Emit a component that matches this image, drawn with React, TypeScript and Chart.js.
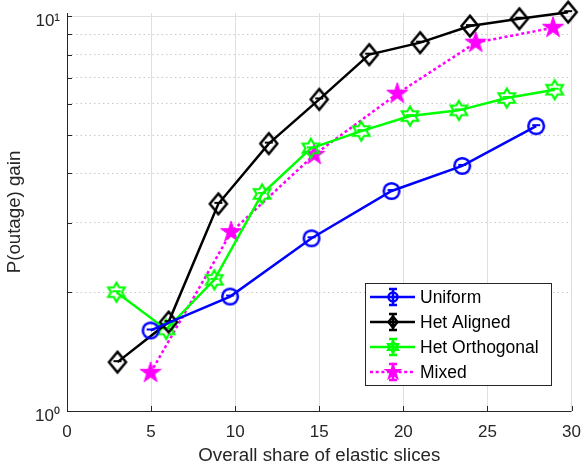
import React, { useEffect, useRef } from "react";
import { Chart, registerables } from "chart.js";

Chart.register(...registerables);

// ---- data ----
const uniformX = [4.97, 9.7, 14.54, 19.3, 23.5, 27.9];
const uniformY = [1.6, 1.95, 2.74, 3.61, 4.18, 5.27];

const alignedX = [3.0, 6.04, 9.0, 12.0, 15.0, 17.97, 21.0, 23.96, 26.9, 29.8];
const alignedY = [1.33, 1.68, 3.35, 4.76, 6.16, 8.0, 8.58, 9.45, 9.86, 10.25];

const orthoX = [2.94, 5.9, 8.76, 11.6, 14.5, 17.5, 20.4, 23.3, 26.15, 29.0];
const orthoY = [2.0, 1.61, 2.15, 3.55, 4.63, 5.12, 5.59, 5.78, 6.21, 6.52];

const mixedX = [4.97, 9.76, 14.7, 19.64, 24.3, 28.9];
const mixedY = [1.25, 2.84, 4.46, 6.37, 8.58, 9.36];

const seriesNames = ["Uniform", "Het Aligned", "Het Orthogonal", "Mixed"];
const seriesColors = ["#0000ff", "#000000", "#00ff00", "#ff00ff"];

const xTicks = [0, 5, 10, 15, 20, 25, 30];
const yTicks = [1, 2, 3, 4, 5, 6, 7, 8, 9, 10];
const yMajorLabels: Record<number, string> = { 1: "10\u2070", 10: "10\u00b9" };

const AXIS_COLOR = "#262626";
const FONT = "'Liberation Sans', Arial, Helvetica, sans-serif";

type Shape = "circle" | "diamond" | "hexagram" | "pentagram";

function starPath(ctx: CanvasRenderingContext2D, cx: number, cy: number, n: number, R: number, r: number) {
  ctx.beginPath();
  for (let i = 0; i < 2 * n; i++) {
    const rad = i % 2 === 0 ? R : r;
    const a = -Math.PI / 2 + (i * Math.PI) / n;
    const px = cx + rad * Math.cos(a);
    const py = cy + rad * Math.sin(a);
    if (i === 0) ctx.moveTo(px, py);
    else ctx.lineTo(px, py);
  }
  ctx.closePath();
}

function drawShape(ctx: CanvasRenderingContext2D, shape: Shape, cx: number, cy: number, s: number, color: string, lw: number, dash: boolean) {
  ctx.save();
  ctx.strokeStyle = color;
  ctx.fillStyle = color;
  ctx.lineWidth = lw;
  ctx.lineJoin = "miter";
  if (shape === "circle") {
    ctx.beginPath();
    ctx.arc(cx, cy, s, 0, Math.PI * 2);
    ctx.stroke();
  } else if (shape === "diamond") {
    ctx.beginPath();
    ctx.moveTo(cx, cy - s * 1.22);
    ctx.lineTo(cx + s, cy);
    ctx.lineTo(cx, cy + s * 1.22);
    ctx.lineTo(cx - s, cy);
    ctx.closePath();
    ctx.stroke();
  } else if (shape === "hexagram") {
    starPath(ctx, cx, cy, 6, s, s / Math.sqrt(3));
    ctx.stroke();
  } else {
    starPath(ctx, cx, cy, 5, s, s * 0.382);
    ctx.fill();
    ctx.stroke();
  }
  if (dash) {
    ctx.lineWidth = 2;
    ctx.beginPath();
    ctx.moveTo(cx - 4, cy - 1);
    ctx.lineTo(cx + 4, cy - 1);
    ctx.stroke();
  }
  ctx.restore();
}

function makeMarker(shape: Shape, s: number, color: string, lw: number, dash: boolean) {
  const size = 32;
  const c = document.createElement("canvas");
  c.width = size;
  c.height = size;
  const ctx = c.getContext("2d")!;
  drawShape(ctx, shape, size / 2, size / 2, s, color, lw, dash);
  return c;
}

const shapes: Shape[] = ["circle", "diamond", "hexagram", "pentagram"];

export default function App() {
  const ref = useRef<HTMLCanvasElement | null>(null);

  useEffect(() => {
    document.body.style.margin = "0";
    const canvas = ref.current!;

    const markers = [
      makeMarker("circle", 7.8, seriesColors[0], 2.5, true),
      makeMarker("diamond", 8.5, seriesColors[1], 2.5, true),
      makeMarker("hexagram", 9.5, seriesColors[2], 2.2, true),
      makeMarker("pentagram", 11, seriesColors[3], 1, false),
    ];

    const mk = (xs: number[], ys: number[]) => xs.map((x, i) => ({ x, y: ys[i] }));

    const axisPlugin = {
      id: "matlabAxes",
      afterDatasetsDraw(chart: any) {
        const { ctx, scales } = chart;
        const xs = scales.x;
        const ys = scales.y;
        const left = xs.left;
        const bottom = ys.bottom;
        ctx.save();
        ctx.strokeStyle = AXIS_COLOR;
        ctx.lineWidth = 1;
        ctx.beginPath();
        ctx.moveTo(left + 0.5, ys.top);
        ctx.lineTo(left + 0.5, bottom + 0.5);
        ctx.lineTo(xs.right, bottom + 0.5);
        ctx.stroke();
        // inward ticks
        ctx.beginPath();
        for (const v of yTicks) {
          const py = Math.round(ys.getPixelForValue(v)) + 0.5;
          ctx.moveTo(left, py);
          ctx.lineTo(left + 5, py);
        }
        for (const v of xTicks) {
          const px = Math.round(xs.getPixelForValue(v)) + 0.5;
          ctx.moveTo(px, bottom);
          ctx.lineTo(px, bottom - 5);
        }
        ctx.stroke();
        ctx.restore();

        // legend
        const bx = 365.5, by = 283.5, bw = 186, bh = 102;
        ctx.save();
        ctx.fillStyle = "#ffffff";
        ctx.fillRect(bx, by, bw, bh);
        ctx.strokeStyle = AXIS_COLOR;
        ctx.lineWidth = 1;
        ctx.strokeRect(bx, by, bw, bh);
        const rows = [297, 322, 347, 372];
        seriesNames.forEach((name, i) => {
          const cy = rows[i];
          const col = seriesColors[i];
          ctx.strokeStyle = col;
          ctx.lineWidth = 2.5;
          ctx.setLineDash(i === 3 ? [3, 2.7] : []);
          ctx.beginPath();
          ctx.moveTo(370, cy);
          ctx.lineTo(415, cy);
          ctx.stroke();
          ctx.setLineDash([]);
          // error bar glyph
          ctx.lineWidth = 2.5;
          ctx.beginPath();
          ctx.moveTo(393, cy - 8);
          ctx.lineTo(393, cy + 8);
          ctx.moveTo(389, cy - 8);
          ctx.lineTo(397, cy - 8);
          ctx.moveTo(389, cy + 8);
          ctx.lineTo(397, cy + 8);
          ctx.stroke();
          drawShape(ctx, shapes[i], 393, cy, i === 3 ? 6 : i === 2 ? 5.5 : 4.5, col, 2.5, false);
          ctx.fillStyle = "#000000";
          ctx.font = `17.5px ${FONT}`;
          ctx.textBaseline = "middle";
          ctx.textAlign = "left";
          ctx.fillText(name, 420, cy + 1);
        });
        ctx.restore();
      },
    };

    const common = {
      showLine: true,
      borderWidth: 2.5,
      pointRadius: 10,
      clip: false as any,
    };

    const chart = new Chart(canvas, {
      type: "scatter",
      data: {
        datasets: [
          { ...common, label: seriesNames[0], data: mk(uniformX, uniformY), borderColor: seriesColors[0], backgroundColor: seriesColors[0], pointStyle: markers[0] as any },
          { ...common, label: seriesNames[1], data: mk(alignedX, alignedY), borderColor: seriesColors[1], backgroundColor: seriesColors[1], pointStyle: markers[1] as any },
          { ...common, label: seriesNames[2], data: mk(orthoX, orthoY), borderColor: seriesColors[2], backgroundColor: seriesColors[2], pointStyle: markers[2] as any },
          { ...common, label: seriesNames[3], data: mk(mixedX, mixedY), borderColor: seriesColors[3], backgroundColor: seriesColors[3], pointStyle: markers[3] as any, borderDash: [3, 2.7] },
        ],
      },
      options: {
        animation: false,
        responsive: false,
        devicePixelRatio: 1,
        layout: { padding: { top: 13, right: 9, left: 0, bottom: 0 } },
        plugins: { legend: { display: false }, tooltip: { enabled: false } },
        scales: {
          x: {
            type: "linear",
            min: 0,
            max: 30,
            afterBuildTicks: (s: any) => {
              s.ticks = xTicks.map((v) => ({ value: v }));
            },
            afterFit: (s: any) => {
              s.height = 59;
              s.paddingLeft = 0;
              s.paddingRight = 0;
            },
            ticks: {
              color: AXIS_COLOR,
              font: { family: FONT, size: 17 },
              padding: 11,
              maxRotation: 0,
              callback: (v: any) => String(v),
            },
            grid: { color: "#dfdfdf", lineWidth: 1, drawTicks: false },
            border: { display: false },
            title: {
              display: true,
              text: "Overall share of elastic slices",
              color: AXIS_COLOR,
              font: { family: FONT, size: 18.7 },
              padding: { top: 0, bottom: 3 },
            },
          },
          y: {
            type: "logarithmic",
            min: 1,
            max: 10.2,
            afterBuildTicks: (s: any) => {
              s.ticks = yTicks.map((v) => ({ value: v, major: v === 1 || v === 10 }));
            },
            afterFit: (s: any) => {
              s.width = 67;
              s.paddingTop = 0;
              s.paddingBottom = 0;
            },
            ticks: {
              color: AXIS_COLOR,
              font: { family: FONT, size: 17 },
              padding: 7,
              labelOffset: 5,
              autoSkip: false,
              callback: (v: any) => yMajorLabels[Math.round(Number(v))] ?? "",
            },
            grid: {
              drawTicks: false,
              lineWidth: 1,
              color: (c: any) => (c.tick && (c.tick.value === 1 || c.tick.value === 10) ? "#dfdfdf" : "#cacaca"),
            },
            border: {
              display: false,
              dash: (c: any) => (c.tick && (c.tick.value === 1 || c.tick.value === 10) ? [] : [1.5, 3]),
            } as any,
            title: {
              display: true,
              text: "P(outage) gain",
              color: AXIS_COLOR,
              font: { family: FONT, size: 18.7 },
              padding: { top: 4, bottom: 0 },
            },
          },
        },
      },
      plugins: [axisPlugin],
    });

    return () => chart.destroy();
  }, []);

  return <canvas ref={ref} width={584} height={470} style={{ display: "block" }} />;
}
